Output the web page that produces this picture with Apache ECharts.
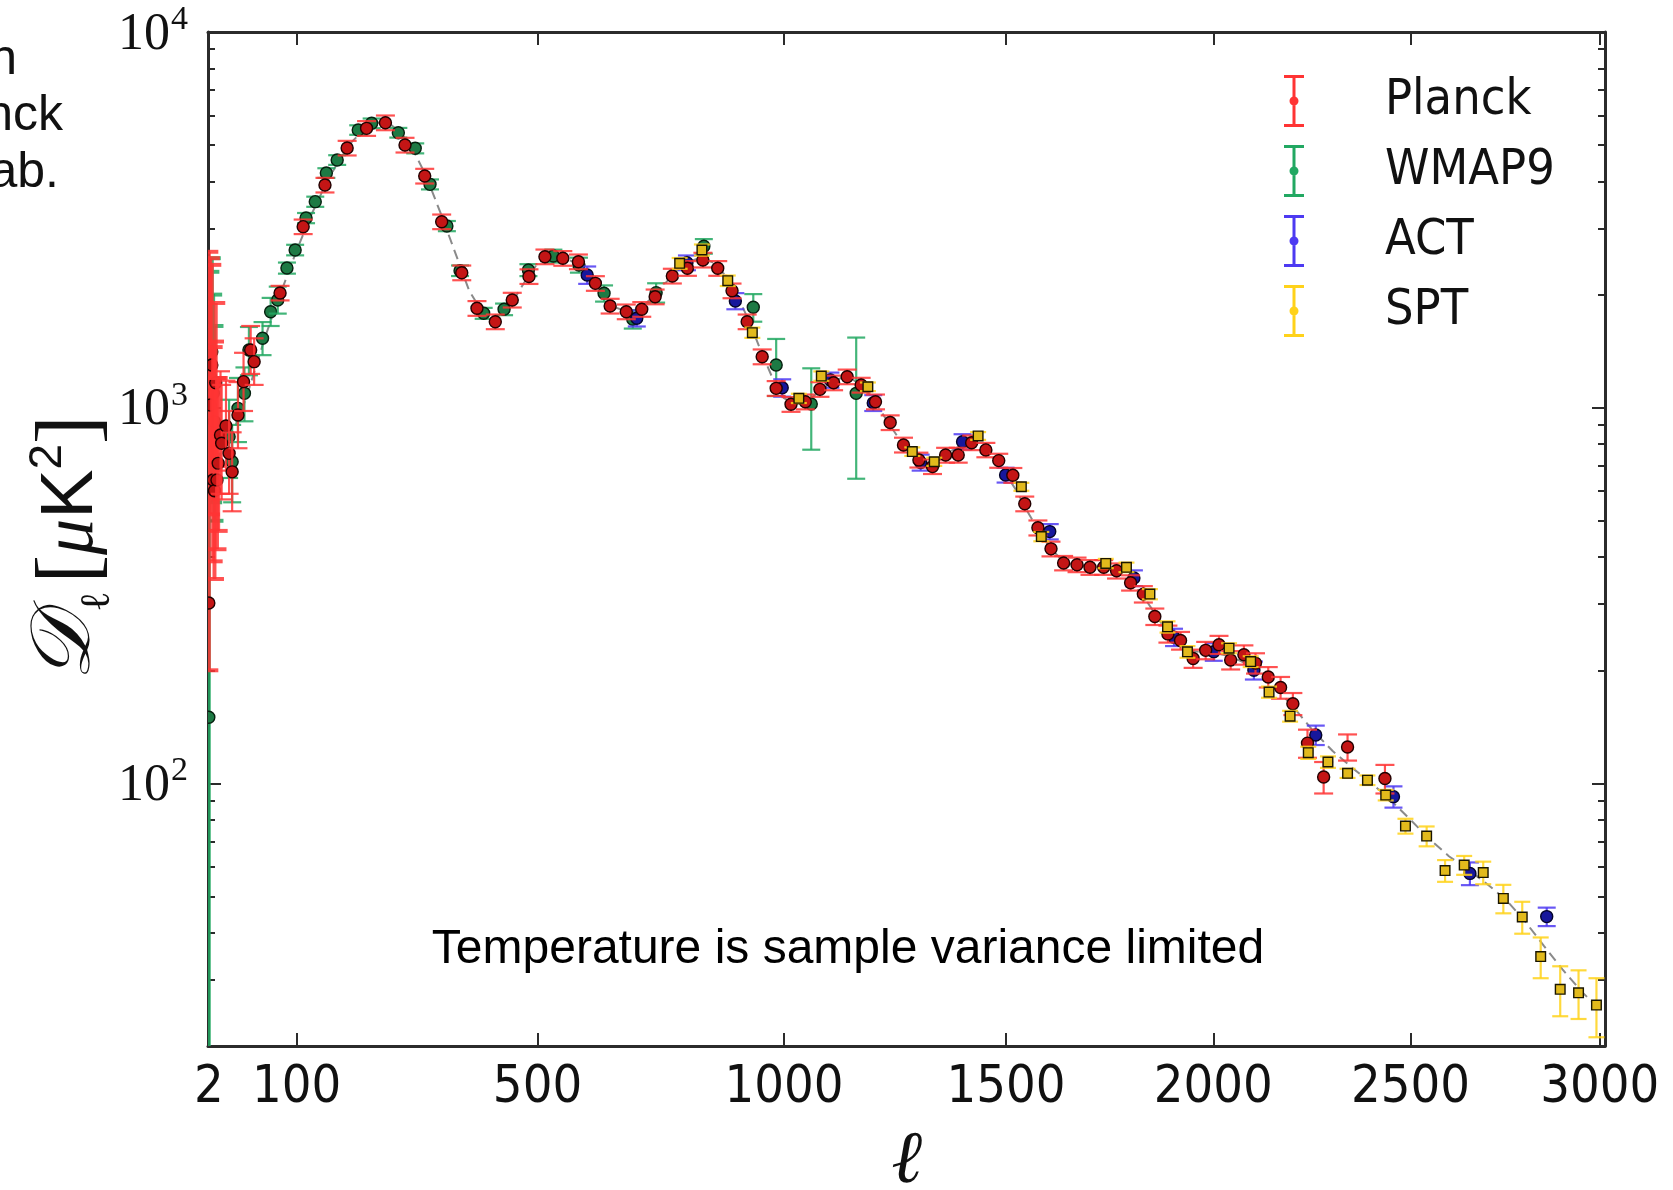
<!DOCTYPE html>
<html><head><meta charset="utf-8">
<script src="https://cdn.jsdelivr.net/npm/echarts@6/dist/echarts.min.js"></script>
<style>html,body{margin:0;padding:0;background:#fff}#c{width:1673px;height:1190px}</style>
</head><body><div id="c"></div>
<script>
// ---------- data (multipole l, D_l in muK^2) ----------
const planckLowEll = [2,3,4,5,6,7,8,9,11,12,16,19,22,28,34,42,46];
const planckLowD   = [302,1017,1299,642,601,1165,642,711,846,804,894,756,675,956,1173,1424,1326];
const planckLowMin = [200,520,700,390,350,700,420,470,590,570,680,590,530,780,980,1230,1150];
const planckLowMax = [2600,2500,2400,1450,1500,1900,1200,1200,1250,1150,1180,980,860,1170,1400,1650,1530];

const planckEll = [78,109,140,173,203,233,265,298,327,362,389,422,453,484,514,548,578,611,640,672,703,730,765,796,828,859,889,921,953,983,1015,1046,1078,1108,1138,1169,1201,1234,1264,1299,1330,1360,1389,1420,1453,1483,1516,1544,1575,1606,1636,1668,1699,1732,1763,1797,1828,1856,1888,1919,1950,1981,2014,2043,2076,2105,2137,2168,2199,2236,2277,2338,2434];
const planckD   = [2020,3033,3915,4912,5541,5736,5003,4137,3127,2287,1839,1694,1935,2235,2523,2499,2447,2143,1865,1801,1828,1974,2242,2350,2473,2350,2048,1694,1367,1126,1021,1037,1119,1165,1209,1149,1037,913,796,726,697,748,748,807,772,723,661,555,479,421,386,382,376,376,368,342,319,278,250,240,215,226,234,213,220,209,192,180,163,128,104,125,103];
const planckErr = [90,135,175,220,250,258,225,186,140,103,83,76,87,100,113,112,110,96,84,81,82,89,101,106,111,106,92,76,62,51,46,47,50,52,54,52,47,41,36,33,31,34,34,36,34,31,30,25,22,19,17,17,17,17,17,16,16,14,13,13,12,12,13,12,13,13,12,12,11,11,10,10,9];

const wmapLowEll = [2,3,4,5,6,19,22,28,35,40,56,66,75];
const wmapLowD   = [150,1209,1409,1092,918,837,718,996,1092,1424,1530,1801,1935];
const wmapLowMin = [5,600,750,560,500,650,560,810,920,1220,1380,1650,1780];
const wmapLowMax = [1400,2300,2500,2000,1650,1050,900,1200,1280,1640,1690,1960,2100];

const wmapEll = [87,98,113,126,142,158,190,211,254,282,307,336,359,401,438,483,530,579,628,685,732,830,934,983,1059,1158];
const wmapD   = [2354,2629,3198,3535,4214,4564,5485,5715,5395,4903,3931,3045,2316,1784,1828,2325,2534,2398,2016,1719,2024,2690,1850,1299,1023,1092];
const wmapErr = [80,85,100,110,125,135,160,170,160,150,120,95,75,60,65,85,100,110,100,95,120,120,156,225,250,445];

const actEll = [595,693,795,896,996,1101,1196,1303,1399,1499,1603,1805,1903,2001,2101,2257,2456,2655,2858];
const actD   = [2256,1730,2432,1923,1130,1185,1030,715,812,662,468,352,245,224,200,134.5,92.2,57.6,44.2];
const actErr = [120,85,110,95,60,55,50,35,38,30,22,17,13,12,11,8,6,4,2.5];

const sptEll = [780,826,880,932,1032,1081,1184,1284,1334,1435,1536,1583,1737,1787,1844,1887,1936,2039,2093,2139,2192,2238,2288,2338,2389,2436,2487,2542,2590,2640,2690,2743,2793,2842,2894,2943,2991];
const sptD   = [2423,2629,2178,1584,1059,1214,1137,764,718,841,616,454,385,376,319,261,224,229,211,175,151,120.7,114,106.4,102,93.1,77.0,72.4,58.6,60.6,57.9,49.4,44.1,34.6,28.3,27.7,25.7];
const sptErr = [80,90,70,50,30,35,30,20,18,20,15,13,11,11,10,9,8,7,7,6,5,4.5,4,3,3,3,3.5,4.4,3.9,3.5,4,4.3,4.3,4.3,4.3,4.1,4.6];

const modelEll = [2,4,7,10,15,20,30,40,50,60,70,80,100,120,140,160,180,200,220,240,260,280,300,325,350,375,400,425,450,475,500,525,550,575,600,625,650,675,700,725,750,775,800,825,850,875,900,925,950,975,1000,1025,1050,1075,1100,1125,1150,1175,1200,1225,1250,1275,1300,1325,1350,1375,1400,1425,1450,1475,1500,1525,1550,1575,1600,1625,1650,1675,1700,1725,1750,1775,1800,1825,1850,1875,1900,1925,1950,1975,2000,2025,2050,2075,2100,2150,2200,2250,2300,2350,2400,2450,2500,2550,2600,2650,2700,2750,2800,2850,2900,2950,3000];
const modelD   = [1000,900,830,800,810,840,950,1120,1330,1560,1800,2050,2620,3250,3900,4530,5100,5520,5740,5700,5350,4800,4150,3300,2600,2050,1780,1700,1880,2150,2420,2540,2510,2420,2240,2000,1850,1800,1840,1970,2140,2320,2450,2510,2430,2250,1990,1700,1420,1200,1060,1020,1040,1100,1160,1200,1190,1130,1040,930,840,770,725,710,730,770,800,805,775,725,665,600,530,475,430,400,385,380,378,376,370,358,340,318,290,264,245,232,225,223,222,220,216,210,202,182,160,138,122,110,100,90,80,71,64,59,54,49,43,37,32,28,25];

const seriesNames = ['Planck','WMAP9','ACT','SPT'];
const xTickLabels = [2,100,500,1000,1500,2000,2500,3000];
const yMajorTicks = [100,1000,10000];
const yMinorTicks = [20,30,40,50,60,70,80,90,200,300,400,500,600,700,800,900,2000,3000,4000,5000,6000,7000,8000,9000];
const xMinEll = 1.5, xMaxEll = 3014, yMin = 20, yMax = 10000;

// ---------- scales: x uses l^0.8, y uses log10 ----------
const P = 0.8;
const tx = l => Math.pow(l, P);
const ty = d => Math.log10(d);

function rowsSym(ell, d, err) { return ell.map((l, i) => [tx(l), ty(d[i]), ty(Math.max(d[i] - err[i], 1e-3)), ty(d[i] + err[i])]); }
function rowsMinMax(ell, d, lo, hi) { return ell.map((l, i) => [tx(l), ty(d[i]), ty(lo[i]), ty(hi[i])]); }

function errRender(o) {
  return function (params, api) {
    const x = api.value(0), y = api.value(1), lo = api.value(2), hi = api.value(3);
    const c = api.coord([x, y]), a = api.coord([x, hi]), b = api.coord([x, lo]);
    const w = o.cap;
    const big = (a[1] - b[1]) < -150; // long low-l bars drawn heavier
    const bs = {stroke: o.bar, lineWidth: big ? o.barWidth * 1.8 : o.barWidth, opacity: o.barOpacity};
    const kids = [
      {type: 'line', shape: {x1: c[0], y1: a[1], x2: c[0], y2: b[1]}, style: bs},
      {type: 'line', shape: {x1: c[0] - w, y1: a[1], x2: c[0] + w, y2: a[1]}, style: bs},
      {type: 'line', shape: {x1: c[0] - w, y1: b[1], x2: c[0] + w, y2: b[1]}, style: bs}
    ];
    if (o.shape === 'rect') {
      kids.push({type: 'rect', shape: {x: c[0] - o.r, y: c[1] - o.r, width: 2 * o.r, height: 2 * o.r}, style: {fill: o.fill, stroke: o.stroke, lineWidth: o.lw}});
    } else {
      kids.push({type: 'circle', shape: {cx: c[0], cy: c[1], r: o.r}, style: {fill: o.fill, stroke: o.stroke, lineWidth: o.lw}});
    }
    return {type: 'group', children: kids};
  };
}

const colors = {
  Planck: {bar: '#ff3434', fill: '#c41515', stroke: '#220000'},
  WMAP9:  {bar: '#22a862', fill: '#1d7a44', stroke: '#06200f'},
  ACT:    {bar: '#4d3af2', fill: '#17179c', stroke: '#04042a'},
  SPT:    {bar: '#ffd21a', fill: '#e2ba1c', stroke: '#1a1600'}
};

function mkSeries(name, data, shape, r, cap) {
  const c = colors[name];
  return {
    type: 'custom', name: name, data: data, clip: true, z: 3,
    itemStyle: {color: c.bar},
    renderItem: errRender({bar: c.bar, barWidth: 2.2, barOpacity: 0.85, cap: cap, fill: c.fill, stroke: c.stroke, lw: 1.4, r: r, shape: shape}),
    encode: {x: 0, y: 1}
  };
}

const chart = echarts.init(document.getElementById('c'), null, {renderer: 'canvas'});
const axisLineStyle = {color: '#2b2b2b', width: 3};
const tickStyle = {color: '#2b2b2b', width: 2};
const narrow = "'Liberation Sans Narrow', 'DejaVu Sans Condensed', 'Liberation Sans', sans-serif";
const xCommon = {type: 'value', min: tx(xMinEll), max: tx(xMaxEll), splitLine: {show: false},
  axisLine: {show: true, onZero: false, lineStyle: axisLineStyle}};
const yCommon = {type: 'value', min: ty(yMin), max: ty(yMax), splitLine: {show: false}};
const xt = xTickLabels.map(tx), ymaj = yMajorTicks.map(ty), ymin = yMinorTicks.map(ty);

const icon = 'path://M0,0H20V3H0Z M0,49H20V52H0Z M8.5,0H11.5V52H8.5Z M5.5,26A4.5,4.5 0 1 1 14.5,26A4.5,4.5 0 1 1 5.5,26Z';

chart.setOption({
  animation: false,
  backgroundColor: '#ffffff',
  grid: {left: 208, right: 68, top: 32, bottom: 144, containLabel: false},
  xAxis: [
    Object.assign({}, xCommon, {position: 'bottom',
      axisTick: {show: true, inside: true, length: 13, customValues: xt, lineStyle: tickStyle},
      axisLabel: {show: true, customValues: xt, formatter: v => String(Math.round(Math.pow(v, 1 / P))),
        fontSize: 52, fontFamily: narrow, color: '#111', margin: 16}}),
    Object.assign({}, xCommon, {position: 'top',
      axisTick: {show: true, inside: true, length: 13, customValues: xt, lineStyle: tickStyle},
      axisLabel: {show: false}})
  ],
  yAxis: [
    Object.assign({}, yCommon, {position: 'left', axisLine: {show: true, lineStyle: axisLineStyle},
      axisTick: {show: true, inside: true, length: 13, customValues: ymaj, lineStyle: tickStyle},
      axisLabel: {show: true, customValues: ymaj, margin: 20, formatter: v => '{b|10}{s|' + Math.round(v) + '}',
        rich: {b: {fontSize: 52, fontFamily: 'Liberation Serif', color: '#111', verticalAlign: 'bottom'},
               s: {fontSize: 34, fontFamily: 'Liberation Serif', color: '#111', verticalAlign: 'bottom', padding: [0, 0, 24, 1]}}}}),
    Object.assign({}, yCommon, {position: 'left', axisLine: {show: false},
      axisTick: {show: true, inside: true, length: 7, customValues: ymin, lineStyle: tickStyle}, axisLabel: {show: false}}),
    Object.assign({}, yCommon, {position: 'right', axisLine: {show: true, lineStyle: axisLineStyle},
      axisTick: {show: true, inside: true, length: 13, customValues: ymaj, lineStyle: tickStyle}, axisLabel: {show: false}}),
    Object.assign({}, yCommon, {position: 'right', axisLine: {show: false},
      axisTick: {show: true, inside: true, length: 7, customValues: ymin, lineStyle: tickStyle}, axisLabel: {show: false}})
  ],
  legend: {
    data: seriesNames.map(n => ({name: n, itemStyle: {color: colors[n].bar}})),
    orient: 'vertical', left: 1284, top: 75, itemWidth: 20, itemHeight: 52, itemGap: 18,
    icon: icon, padding: 0, selectedMode: false,
    formatter: n => '{g| }{t|' + n + '}',
    textStyle: {fontSize: 50, fontFamily: narrow, color: '#111',
      rich: {g: {width: 76, fontSize: 50}, t: {fontSize: 50, fontFamily: narrow, color: '#111'}}}
  },
  series: [
    {type: 'line', name: 'model', data: modelEll.map((l, i) => [tx(l), ty(modelD[i])]), symbol: 'none', silent: true, z: 1,
      lineStyle: {color: '#8a8a8a', width: 2, type: [10, 6]}, clip: true},
    mkSeries('WMAP9', rowsMinMax(wmapLowEll, wmapLowD, wmapLowMin, wmapLowMax).concat(rowsSym(wmapEll, wmapD, wmapErr)), 'circle', 6, 9),
    mkSeries('ACT', rowsSym(actEll, actD, actErr), 'circle', 6, 9),
    mkSeries('Planck', rowsMinMax(planckLowEll, planckLowD, planckLowMin, planckLowMax).concat(rowsSym(planckEll, planckD, planckErr)), 'circle', 6, 9.5),
    mkSeries('SPT', rowsSym(sptEll, sptD, sptErr), 'rect', 4.8, 8)
  ],
  graphic: [
    {type: 'text', x: 17, y: 60, style: {text: 'n', fontSize: 50, fontFamily: 'Liberation Sans', fill: '#111', align: 'right', verticalAlign: 'middle'}},
    {type: 'text', x: 63, y: 116, style: {text: 'nck', fontSize: 50, fontFamily: 'Liberation Sans', fill: '#111', align: 'right', verticalAlign: 'middle'}},
    {type: 'text', x: 59, y: 173, style: {text: 'ab.', fontSize: 50, fontFamily: 'Liberation Sans', fill: '#111', align: 'right', verticalAlign: 'middle'}},
    {type: 'text', x: 848, y: 950, style: {text: 'Temperature is sample variance limited', fontSize: 48, fontFamily: 'Liberation Sans', fill: '#000', align: 'center', verticalAlign: 'middle'}},
    {type: 'text', x: 907, y: 1163, style: {text: 'ℓ', fontSize: 74, fontFamily: 'DejaVu Serif', fontStyle: 'italic', fill: '#111', align: 'center', verticalAlign: 'middle'}},
    {type: 'text', x: 72, y: 548, rotation: Math.PI / 2, style: {
      text: '{d|𝒟}{l|ℓ}{b|[}{m|μ}{k|K}{p|2}{b|]}', align: 'center', verticalAlign: 'middle',
      rich: {
        d: {fontSize: 84, fontFamily: 'DejaVu Serif', fontStyle: 'italic', fill: '#111', verticalAlign: 'bottom', padding: [0, 2, 10, 0]},
        l: {fontSize: 42, fontFamily: 'DejaVu Serif', fill: '#111', verticalAlign: 'bottom', padding: [0, 8, 0, 0]},
        b: {fontSize: 86, fontFamily: 'Liberation Serif', fill: '#111', verticalAlign: 'bottom', padding: [0, 0, 4, 0]},
        m: {fontSize: 72, fontFamily: 'Liberation Serif', fontStyle: 'italic', fill: '#111', verticalAlign: 'bottom', padding: [0, 0, 10, 0]},
        k: {fontSize: 74, fontFamily: 'Liberation Sans', fill: '#111', verticalAlign: 'bottom', padding: [0, 0, 10, 0]},
        p: {fontSize: 46, fontFamily: 'Liberation Sans', fill: '#111', verticalAlign: 'bottom', padding: [0, 0, 48, 0]}
      }}}
  ]
});
</script></body></html>
